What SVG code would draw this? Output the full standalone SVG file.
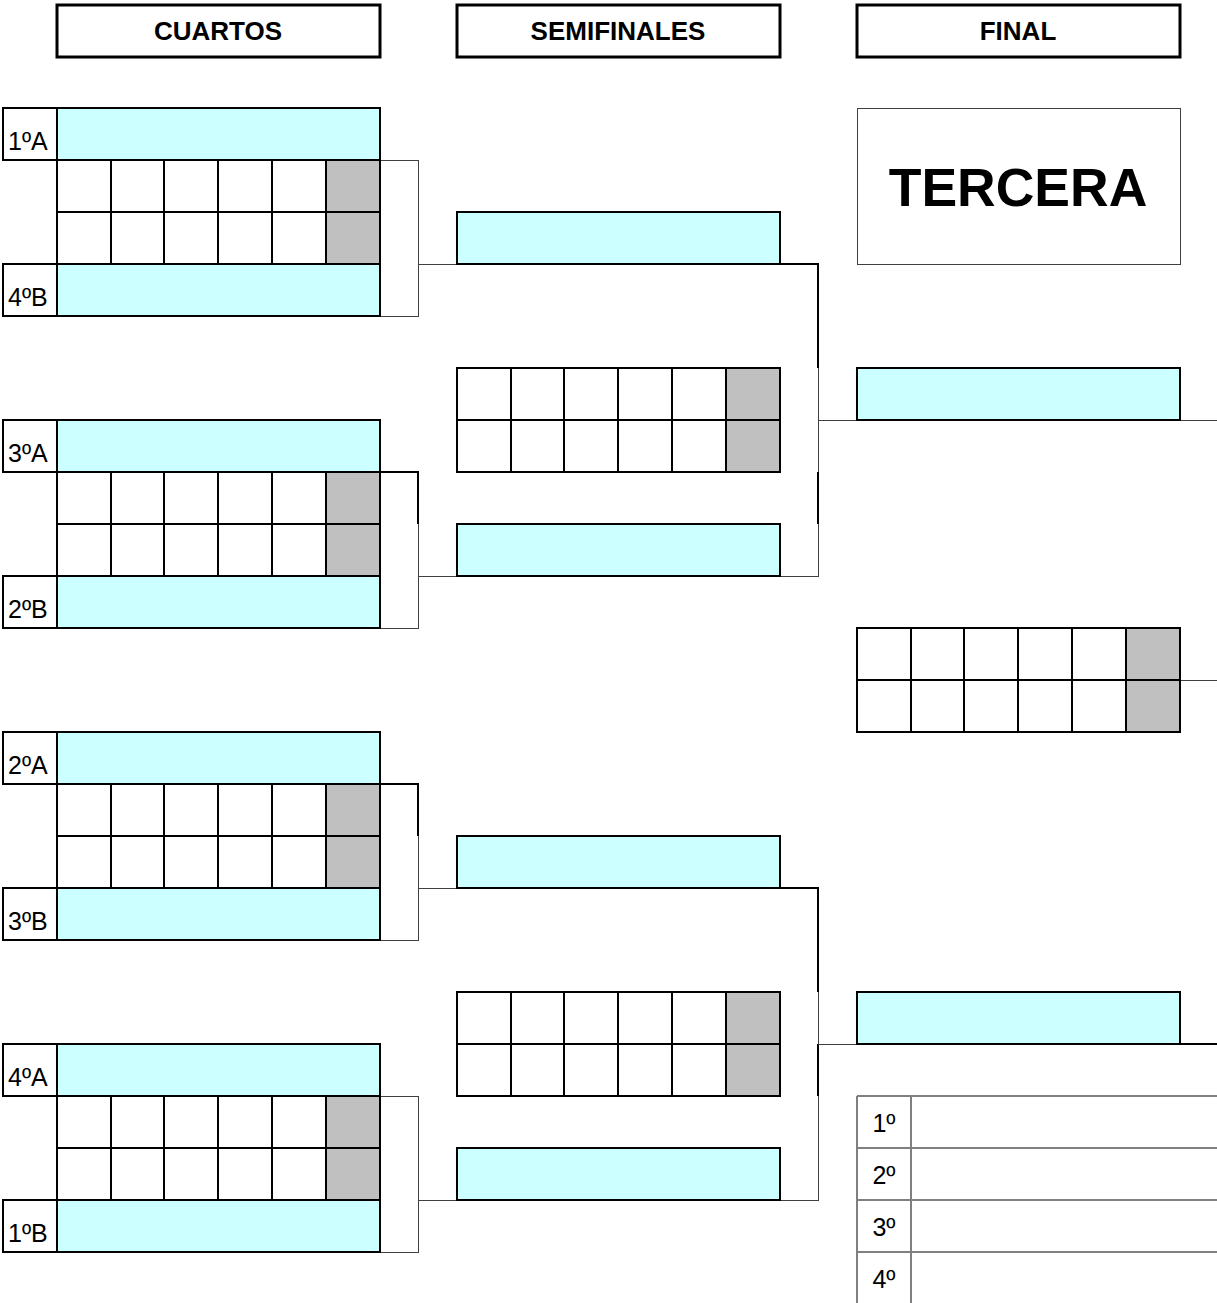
<svg xmlns="http://www.w3.org/2000/svg" xmlns:xlink="http://www.w3.org/1999/xlink" width="1217" height="1303" viewBox="0 0 1217 1303">
<style>
.hdr{fill:#fff;stroke:#000;stroke-width:3}
.hdrt{font-family:"Liberation Sans",Arial,sans-serif;font-weight:bold;font-size:26px;text-anchor:middle}
.slot{fill:#ccffff;stroke:#000;stroke-width:2}
.lab{fill:#fff;stroke:#000;stroke-width:2}
.labt{font-family:"Liberation Sans",Arial,sans-serif;font-size:25px}
.cell{fill:#fff;stroke:#000;stroke-width:2}
.gcell{fill:#c0c0c0;stroke:#000;stroke-width:2}
.thin{fill:none;stroke:#404040;stroke-width:1;shape-rendering:crispEdges}
.thick{fill:none;stroke:#000;stroke-width:2}
.grid{fill:none;stroke:#808080;stroke-width:2}
.post{font-family:"Liberation Sans",Arial,sans-serif;font-size:25px;text-anchor:middle}
</style>
<defs>
<g id="score">
<rect class="cell" x="0" y="0" width="54" height="52"/>
<rect class="cell" x="54" y="0" width="53" height="52"/>
<rect class="cell" x="107" y="0" width="54" height="52"/>
<rect class="cell" x="161" y="0" width="54" height="52"/>
<rect class="cell" x="215" y="0" width="54" height="52"/>
<rect class="gcell" x="269" y="0" width="54" height="52"/>
<rect class="cell" x="0" y="52" width="54" height="52"/>
<rect class="cell" x="54" y="52" width="53" height="52"/>
<rect class="cell" x="107" y="52" width="54" height="52"/>
<rect class="cell" x="161" y="52" width="54" height="52"/>
<rect class="cell" x="215" y="52" width="54" height="52"/>
<rect class="gcell" x="269" y="52" width="54" height="52"/>
</g>
</defs>
<rect width="1217" height="1303" fill="#fff"/>

<g id="headers">
<g id="h-cuartos"><rect class="hdr" x="57" y="5" width="323" height="52"/><text class="hdrt" x="218" y="40">CUARTOS</text></g>
<g id="h-semis"><rect class="hdr" x="457" y="5" width="323" height="52"/><text class="hdrt" x="618" y="40">SEMIFINALES</text></g>
<g id="h-final"><rect class="hdr" x="857" y="5" width="323" height="52"/><text class="hdrt" x="1018" y="40">FINAL</text></g>
</g>

<g id="connectors">
<polyline class="thin" points="380,160 418,160 418,316 380,316"/>
<line class="thin" x1="418" y1="264" x2="457" y2="264"/>
<polyline class="thin" points="380,472 418,472 418,628 380,628"/>
<polyline class="thick" points="380,472 418,472 418,524"/>
<line class="thin" x1="418" y1="576" x2="457" y2="576"/>
<polyline class="thin" points="380,784 418,784 418,940 380,940"/>
<polyline class="thick" points="380,784 418,784 418,836"/>
<line class="thin" x1="418" y1="888" x2="457" y2="888"/>
<polyline class="thin" points="380,1096 418,1096 418,1252 380,1252"/>
<line class="thin" x1="418" y1="1200" x2="457" y2="1200"/>
<polyline class="thin" points="780,264 818,264 818,576 780,576"/>
<polyline class="thick" points="780,264 818,264 818,368"/>
<line class="thick" x1="818" y1="472" x2="818" y2="524"/>
<line class="thin" x1="818" y1="420" x2="857" y2="420"/>
<line class="thin" x1="1180" y1="420" x2="1217" y2="420"/>
<polyline class="thin" points="780,888 818,888 818,1200 780,1200"/>
<polyline class="thick" points="780,888 818,888 818,992"/>
<line class="thick" x1="818" y1="1044" x2="818" y2="1096"/>
<line class="thin" x1="818" y1="1044" x2="857" y2="1044"/>
<line class="thick" x1="1180" y1="1044" x2="1217" y2="1044"/>
<line class="thin" x1="1180" y1="680" x2="1217" y2="680"/>
</g>

<g id="q1">
<rect class="lab" x="3" y="108" width="54" height="52"/><text class="labt" x="8" y="150">1ºA</text>
<rect class="slot" x="57" y="108" width="323" height="52"/>
<use xlink:href="#score" href="#score" x="57" y="160"/>
<rect class="lab" x="3" y="264" width="54" height="52"/><text class="labt" x="8" y="306">4ºB</text>
<rect class="slot" x="57" y="264" width="323" height="52"/>
</g>
<g id="q2">
<rect class="lab" x="3" y="420" width="54" height="52"/><text class="labt" x="8" y="462">3ºA</text>
<rect class="slot" x="57" y="420" width="323" height="52"/>
<use xlink:href="#score" href="#score" x="57" y="472"/>
<rect class="lab" x="3" y="576" width="54" height="52"/><text class="labt" x="8" y="618">2ºB</text>
<rect class="slot" x="57" y="576" width="323" height="52"/>
</g>
<g id="q3">
<rect class="lab" x="3" y="732" width="54" height="52"/><text class="labt" x="8" y="774">2ºA</text>
<rect class="slot" x="57" y="732" width="323" height="52"/>
<use xlink:href="#score" href="#score" x="57" y="784"/>
<rect class="lab" x="3" y="888" width="54" height="52"/><text class="labt" x="8" y="930">3ºB</text>
<rect class="slot" x="57" y="888" width="323" height="52"/>
</g>
<g id="q4">
<rect class="lab" x="3" y="1044" width="54" height="52"/><text class="labt" x="8" y="1086">4ºA</text>
<rect class="slot" x="57" y="1044" width="323" height="52"/>
<use xlink:href="#score" href="#score" x="57" y="1096"/>
<rect class="lab" x="3" y="1200" width="54" height="52"/><text class="labt" x="8" y="1242">1ºB</text>
<rect class="slot" x="57" y="1200" width="323" height="52"/>
</g>

<g id="s1">
<rect class="slot" x="457" y="212" width="323" height="52"/>
<use xlink:href="#score" href="#score" x="457" y="368"/>
<rect class="slot" x="457" y="524" width="323" height="52"/>
</g>
<g id="s2">
<rect class="slot" x="457" y="836" width="323" height="52"/>
<use xlink:href="#score" href="#score" x="457" y="992"/>
<rect class="slot" x="457" y="1148" width="323" height="52"/>
</g>

<g id="tercera">
<rect x="857" y="108" width="323" height="156" fill="#fff" stroke="#404040" stroke-width="1" shape-rendering="crispEdges"/>
<text x="1018" y="206" font-family="'Liberation Sans',Arial,sans-serif" font-weight="bold" font-size="53.5" text-anchor="middle">TERCERA</text>
</g>

<g id="final">
<rect class="slot" x="857" y="368" width="323" height="52"/>
<use xlink:href="#score" href="#score" x="857" y="628"/>
<rect class="slot" x="857" y="992" width="323" height="52"/>
</g>

<g id="standings">
<line class="grid" x1="857" y1="1096" x2="1217" y2="1096"/>
<line class="grid" x1="857" y1="1148" x2="1217" y2="1148"/>
<line class="grid" x1="857" y1="1200" x2="1217" y2="1200"/>
<line class="grid" x1="857" y1="1252" x2="1217" y2="1252"/>
<line class="grid" x1="857" y1="1096" x2="857" y2="1303"/>
<line class="grid" x1="911" y1="1096" x2="911" y2="1303"/>
<text class="post" x="884" y="1132">1º</text>
<text class="post" x="884" y="1184">2º</text>
<text class="post" x="884" y="1236">3º</text>
<text class="post" x="884" y="1288">4º</text>
</g>
</svg>
